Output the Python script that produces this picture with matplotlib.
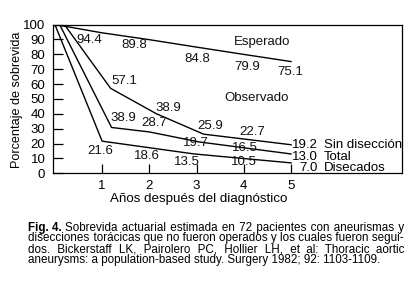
import matplotlib
matplotlib.use("Agg")
import matplotlib.pyplot as plt

plt.rcParams['font.family'] = ['Liberation Sans', 'DejaVu Sans']

# survival curves (years after diagnosis, % surviving) as drawn in the figure
esperado_x = [0, 1, 2, 3, 4, 5]
esperado_y = [100, 94.4, 89.8, 84.8, 79.9, 75.1]

sin_x = [0.2, 1.18, 2.15, 3.15, 5.0]
sin_y = [100, 57.1, 40.0, 26.3, 19.2]

total_x = [0.1, 1.2, 2.0, 3.05, 5.0]
total_y = [100, 30.8, 27.8, 21.1, 13.0]

disec_x = [0, 1.0, 2.95, 5.0]
disec_y = [100, 21.6, 13.0, 7.0]

# printed values next to each curve
esperado_vals = ["94.4", "89.8", "84.8", "79.9", "75.1"]
sin_vals = ["57.1", "38.9", "25.9", "22.7"]
total_vals = ["38.9", "28.7", "19.7", "16.5"]
disec_vals = ["21.6", "18.6", "13.5", "10.5"]
end_vals = ["19.2", "13.0", "7.0"]
end_names = ["Sin disección", "Total", "Disecados"]

x_ticks = [1, 2, 3, 4, 5]
y_ticks = [0, 10, 20, 30, 40, 50, 60, 70, 80, 90, 100]

fig_tag = "Fig. 4."
caption_lines = [
    "Sobrevida actuarial estimada en 72 pacientes con aneurismas y",
    "disecciones torácicas que no fueron operados y los cuales fueron segui-",
    "dos. Bickerstaff LK, Pairolero PC, Hollier LH, et al: Thoracic aortic",
    "aneurysms: a population-based study. Surgery 1982; 92: 1103-1109.",
]

W, H = 417, 292
fig = plt.figure(figsize=(W / 100, H / 100), dpi=100)
fig.patch.set_facecolor('white')

# axes box in pixels: left 53, right 402, top 24.5, bottom 173.3
ax = fig.add_axes([53 / W, (H - 173.3) / H, 349 / W, 148.8 / H])
ax.set_xlim(-0.04, 7.35)
ax.set_ylim(0, 100)

lw = 1.0
ax.plot(esperado_x, esperado_y, color='black', lw=lw)
ax.plot(sin_x, sin_y, color='black', lw=lw)
ax.plot(total_x, total_y, color='black', lw=lw)
ax.plot(disec_x, disec_y, color='black', lw=lw)

fs = 9.5
lab = dict(fontsize=fs, ha='center', va='center', color='#111111')

for x, s, y in zip([0.73, 1.69, 3.01, 4.08, 4.98], esperado_vals, [89.5, 86, 77, 71.5, 67.8]):
    ax.text(x, y, s, **lab)
for x, s, y in zip([1.48, 2.41, 3.28, 4.18], sin_vals, [61.8, 43.7, 31.7, 27.7]):
    ax.text(x, y, s, **lab)
for x, s, y in zip([1.44, 2.10, 2.99, 4.02], total_vals, [37, 33.9, 20.3, 16.9]):
    ax.text(x, y, s, **lab)
for x, s, y in zip([0.97, 1.94, 2.80, 4.01], disec_vals, [15.3, 11.9, 7.9, 7.6]):
    ax.text(x, y, s, **lab)

for s, name, y in zip(end_vals, end_names, [19, 10.9, 3.5]):
    ax.text(5.57, y, s, fontsize=fs, ha='right', va='center')
    ax.text(5.70, y, name, fontsize=fs, ha='left', va='center')

ax.text(4.38, 88, "Esperado", **lab)
ax.text(4.28, 50.3, "Observado", **lab)

ax.set_xticks(x_ticks)
ax.set_yticks(y_ticks)
ax.tick_params(axis='y', direction='in', length=7.5, width=0.9, pad=5.5, labelsize=9.5)
ax.tick_params(axis='x', direction='in', length=6.3, width=0.9, pad=5.0, labelsize=9.5)
for sp in ax.spines.values():
    sp.set_linewidth(0.9)

ax.set_xlabel("Años después del diagnóstico", fontsize=9.6, va='top')
ax.xaxis.set_label_coords(0.417, -0.135)
ax.set_ylabel("Porcentaje de sobrevida", fontsize=9.1, va='center')
ax.yaxis.set_label_coords(-0.102, 0.493)

# caption, justified by padding the word gaps with hair spaces
r = fig.canvas.get_renderer()
cap_fs = 8.4
x0, x1 = 28.0, 404.0
HAIR = "\u200a"


def width_of(s, **kw):
    t = fig.text(0, 0, s, fontsize=cap_fs, **kw)
    w = t.get_window_extent(r).width
    t.remove()
    return w


hair_w = (width_of("x" + HAIR * 40 + "x") - width_of("xx")) / 40


def justify(s, target):
    words = s.split(" ")
    gaps = len(words) - 1
    extra = int(round((target - width_of(s)) / hair_w))
    out = words[0]
    for i, w in enumerate(words[1:]):
        n = extra // gaps + (1 if i < extra % gaps else 0)
        out += " " + HAIR * n + w
    return out


base = [230.5, 241.5, 252.5, 263.5]
tag = fig.text(x0 / W, (H - base[0]) / H, fig_tag, fontsize=cap_fs, fontweight='bold',
               va='baseline', ha='left')
tag_w = tag.get_window_extent(r).width + width_of(" ")
for i, (line, yb) in enumerate(zip(caption_lines, base)):
    start = x0 + tag_w if i == 0 else x0
    txt = justify(line, x1 - start) if i < 3 else line
    fig.text(start / W, (H - yb) / H, txt, fontsize=cap_fs, va='baseline', ha='left')

fig.savefig("out.png", dpi=100, facecolor='white')
